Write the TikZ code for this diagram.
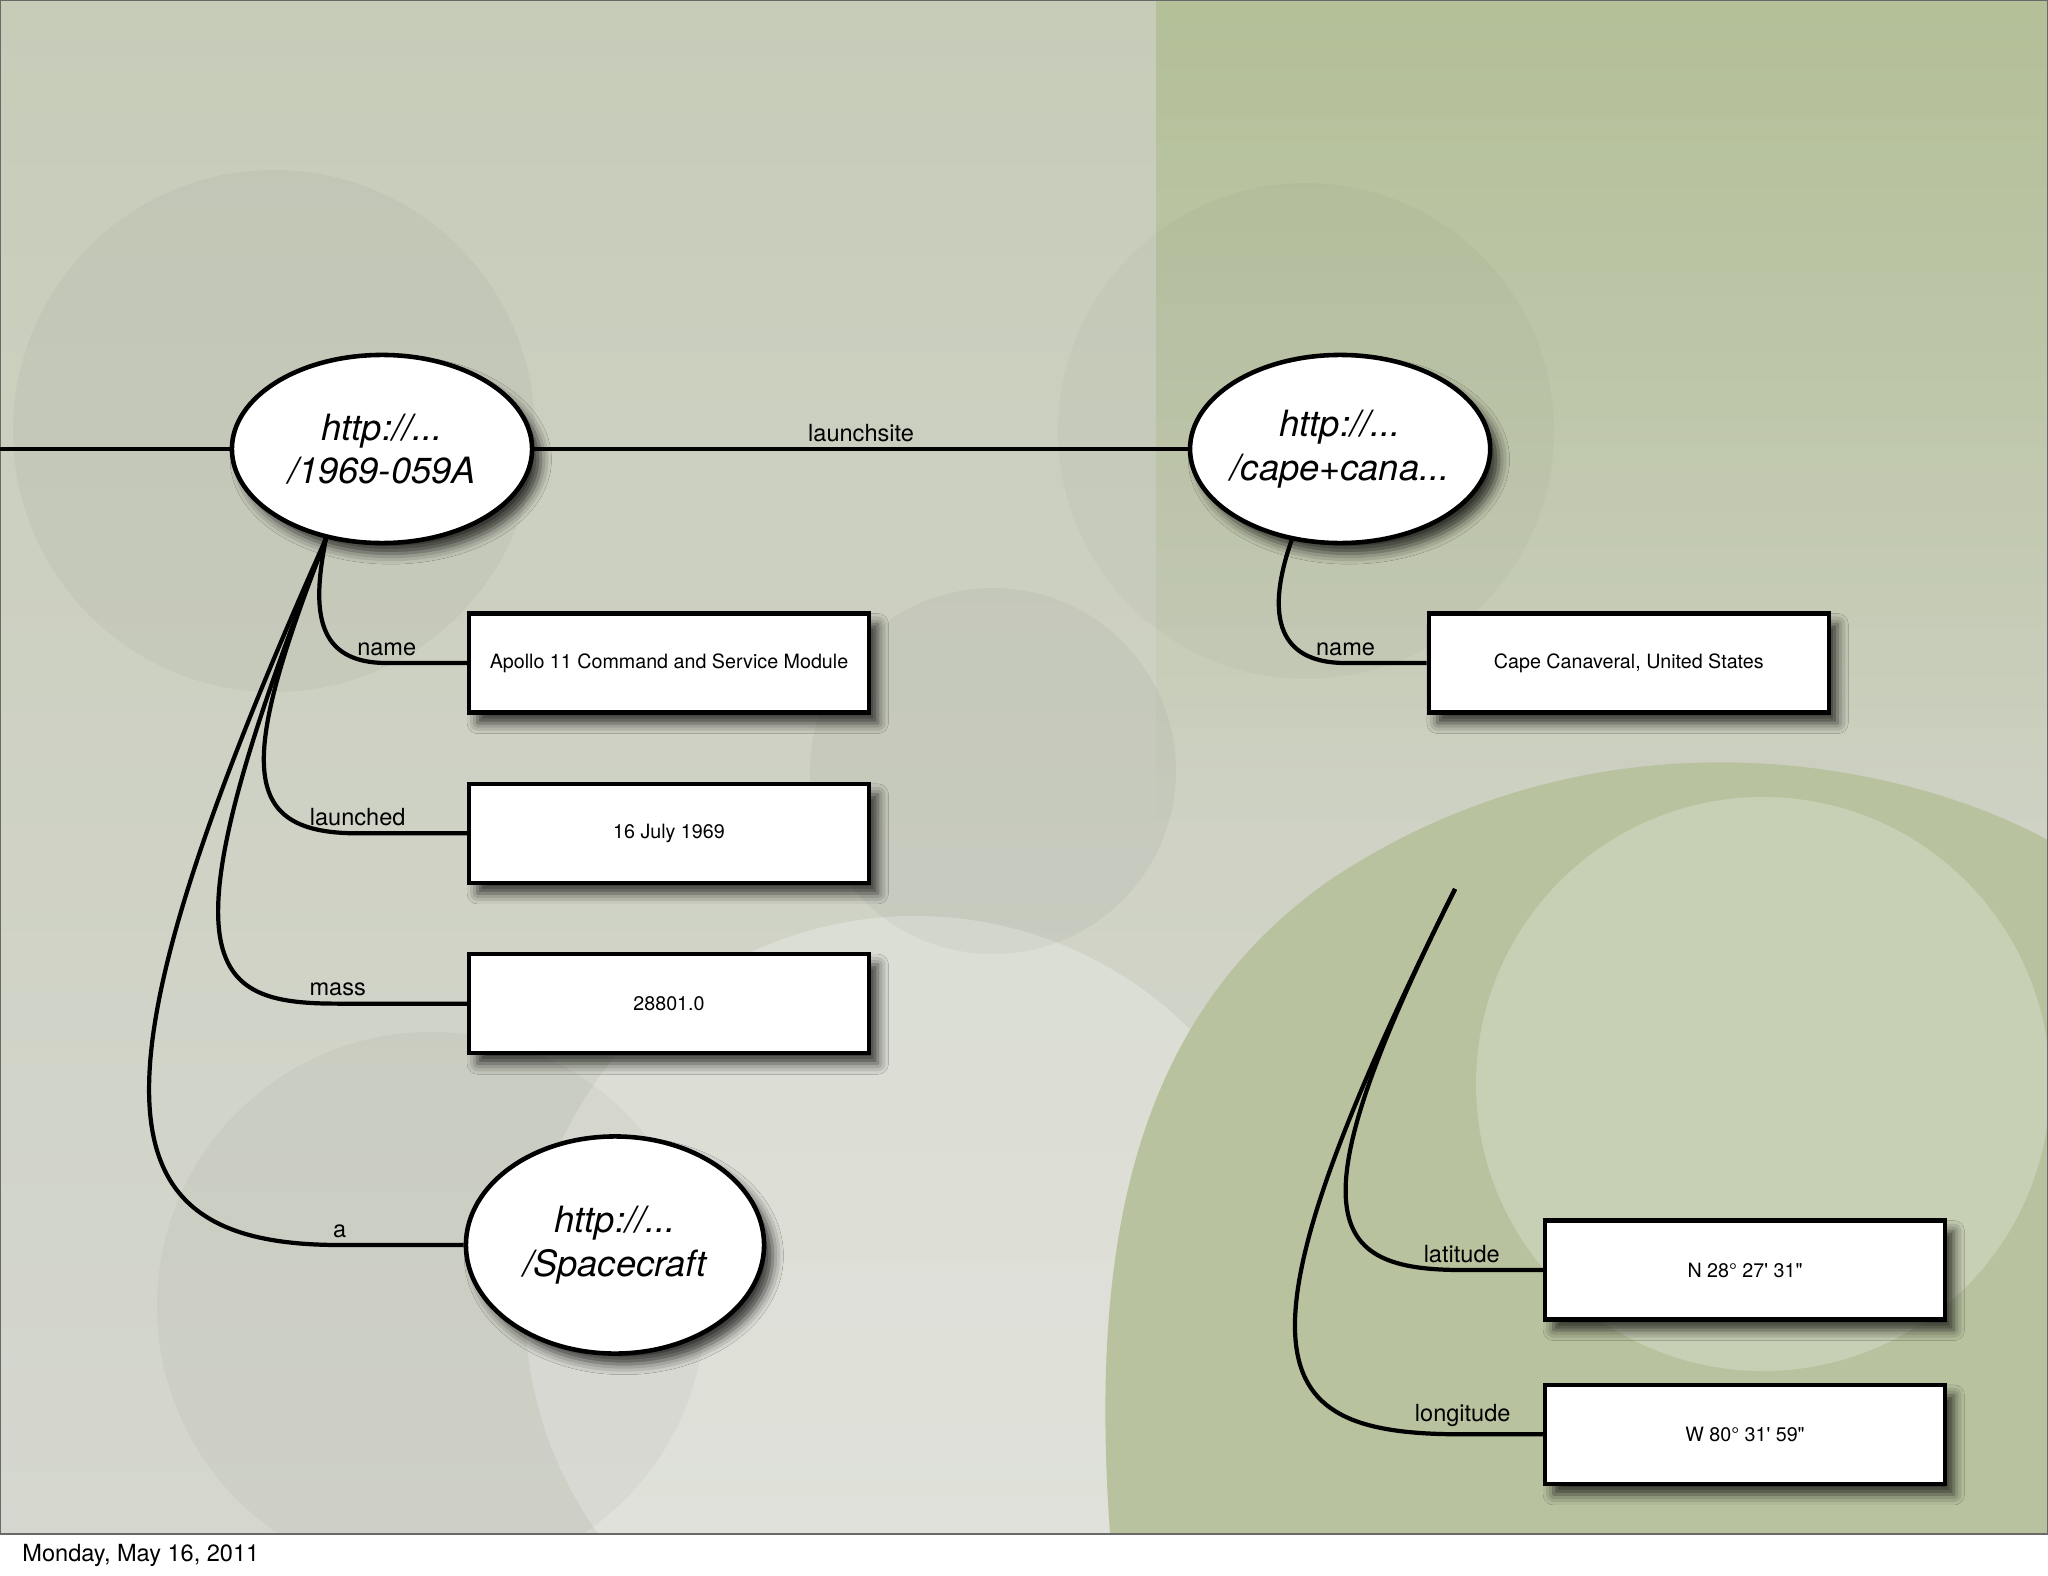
\documentclass[tikz,border=0pt]{standalone}
\usepackage{fontspec}
\setmainfont{TeX Gyre Heros}
\usetikzlibrary{shapes.geometric, positioning, shadows.blur, fadings}

\definecolor{slidebase}{RGB}{199,204,185}
\definecolor{slidelow}{RGB}{213,215,206}
\definecolor{slidegreen}{RGB}{180,192,152}
\definecolor{slideframe}{RGB}{105,105,105}
\tikzfading[name=fadedown, top color=transparent!0, bottom color=transparent!100]

\begin{document}
\begin{tikzpicture}[
    x=0.01cm, y=-0.01cm,
    uri/.style={ellipse, draw, line width=1.3pt, fill=white, inner sep=-4pt, minimum width=3cm, minimum height=1.88cm, align=center, font=\fontsize{10.3}{12.4}\selectfont\itshape, blur shadow={shadow xshift=2.5pt, shadow yshift=-3pt, shadow blur radius=3pt, shadow opacity=75}},
    lit/.style={rectangle, draw, line width=1.2pt, fill=white, minimum width=4cm, minimum height=0.99cm, font=\fontsize{5.6}{7}\selectfont, blur shadow={shadow xshift=2.5pt, shadow yshift=-3pt, shadow blur radius=3pt, shadow opacity=75}},
    lbl/.style={above, inner sep=1.5pt, font=\fontsize{6.7}{8}\selectfont},
    link/.style={line width=1.2pt}
  ]
  \useasboundingbox (0,0) rectangle (2048,1576);
  \fill[white] (0,0) rectangle (2048,1576);
  \begin{scope}
    \clip (0,0) rectangle (2048,1534);
    \shade[top color=slidebase, bottom color=slidelow] (0,0) rectangle (2048,1534);
    \fill[slidegreen, path fading=fadedown] (1156,0) rectangle (2048,820);
    \fill[white, opacity=.25] (915,1306) circle[radius=390];
    \fill[slidegreen!80!slidebase] (1110,1534) .. controls (1090,1250) and (1130,1020) .. (1330,880) .. controls (1600,700) and (1900,760) .. (2048,840) -- (2048,1534) -- cycle;
    \fill[white, opacity=.22] (1763,1084) circle[radius=287];
    \fill[black, opacity=.03] (274,431) circle[radius=261];
    \fill[black, opacity=.035] (993,771) circle[radius=183];
    \fill[black, opacity=.025] (1306,431) circle[radius=248];
    \fill[black, opacity=.03] (431,1306) circle[radius=274];
  \end{scope}
  \draw[slideframe, line width=0.6pt] (0,0) rectangle (2048,1534);

  \node[uri] (craft) at (382,449) {http://...\\/1969-059A};
  \node[uri, right=6.53cm of craft] (cape) {http://...\\/cape+cana...};
  \node[uri, minimum width=2.98cm, minimum height=2.17cm] (ship) at (615,1245) {http://...\\/Spacecraft};

  \node[lit] (apollo) at (669,663) {Apollo 11 Command and Service Module};
  \node[lit, below=0.67cm of apollo] (launchdate) {16 July 1969};
  \node[lit, below=0.67cm of launchdate] (massval) {28801.0};
  \node[lit, right=5.55cm of apollo] (capename) {Cape Canaveral, United States};
  \node[lit] (lat) at (1745,1270) {N 28° 27\textquotesingle{} 31\textquotedbl};
  \node[lit, below=0.61cm of lat] (long) {W 80° 31\textquotesingle{} 59\textquotedbl};

  \coordinate (offleft) at (0,449);
  \coordinate (geo) at (1455,889);

  \draw[link] (offleft) -- (craft.west);
  \draw[link] (craft.east) -- node[lbl] {launchsite} (cape.west);
  \draw[link] (craft.-122) .. controls +(-15,74) and +(-70,0) .. ([xshift=-0.8cm]apollo.west) node[lbl] {name} -- (apollo.west);
  \draw[link] (craft.-122) .. controls +(-87,224) and +(-120,0) .. ([xshift=-1.09cm]launchdate.west) node[lbl] {launched} -- (launchdate.west);
  \draw[link] (craft.-122) .. controls +(-170,430) and +(-130,0) .. ([xshift=-1.29cm]massval.west) node[lbl] {mass} -- (massval.west);
  \draw[link] (craft.-122) .. controls +(-252,564) and +(-237,0) .. ([xshift=-1.24cm]ship.west) node[lbl] {a} -- (ship.west);
  \draw[link] (cape.-118) .. controls +(-20,57) and +(-80,0) .. ([xshift=-0.81cm]capename.west) node[lbl] {name} -- (capename.west);
  \draw[link] (geo) .. controls +(-165,330) and +(-134,0) .. ([xshift=-0.81cm]lat.west) node[lbl] {latitude} -- (lat.west);
  \draw[link] (geo) .. controls +(-240,481) and +(-195,0) .. ([xshift=-0.8cm]long.west) node[lbl] {longitude} -- (long.west);

  \node[anchor=west, font=\fontsize{6.7}{8}\selectfont] (stamp) at (10,1555) {Monday, May 16, 2011};
\end{tikzpicture}
\end{document}
